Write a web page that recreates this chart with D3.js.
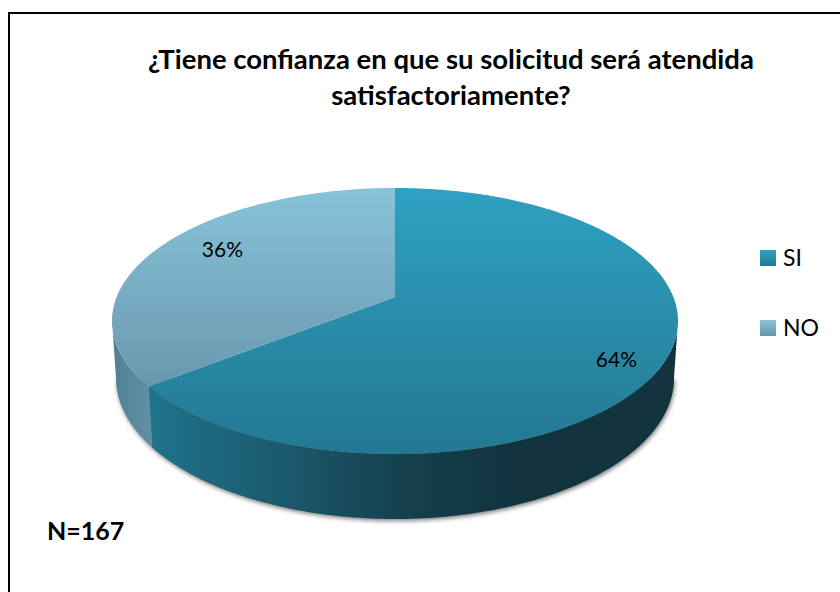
<!DOCTYPE html>
<html>
<head>
<meta charset="utf-8">
<style>
  html, body { margin: 0; padding: 0; background: #fff; }
  svg { display: block; }
  text { font-family: Lato, "Open Sans", sans-serif; fill: #000; }
</style>
</head>
<body>
<svg id="chart" width="840" height="592"></svg>
<script src="https://cdn.jsdelivr.net/npm/d3@7"></script>
<script>
var categories = ["SI", "NO"];
var values = [64.4, 35.6];
var labels = ["64%", "36%"];
var titleLines = ["¿Tiene confianza en que su solicitud será atendida", "satisfactoriamente?"];
var note = "N=167";

var svg = d3.select("#chart");

// top face and bottom rim of the disc
var top_ = {cx: 395, cy: 321, rx: 283, ry: 133};
var bot = {cx: 395, cy: 378, rx: 279, ry: 141};
var persp = -0.18;   // moves the apex up, like the tilted 3D view

// circle point -> ellipse, keeps the circle a circle but shifts the centre
function project(e, a, r) {
  var u = Math.sin(a) * r, v = -Math.cos(a) * r;
  var w = 1 + persp * v;
  return [e.cx + e.rx * u * Math.sqrt(1 - persp * persp) / w,
          e.cy + e.ry * (v + persp) / w];
}

var defs = svg.append("defs");

function gradient(id, x1, y1, x2, y2, stops) {
  var g = defs.append("linearGradient").attr("id", id)
    .attr("gradientUnits", "userSpaceOnUse")
    .attr("x1", x1).attr("y1", y1).attr("x2", x2).attr("y2", y2);
  stops.forEach(function(s) {
    g.append("stop").attr("offset", s[0]).attr("stop-color", s[1]);
  });
}

gradient("topSI", 0, 188, 0, 454, [[0, "#2fa1c2"], [1, "#237892"]]);
gradient("topNO", 0, 188, 0, 400, [[0, "#87c3da"], [1, "#6795aa"]]);
gradient("wallSI", 150, 0, 670, 0, [[0, "#1f738b"], [0.25, "#1b5a6d"], [0.5, "#143f4d"], [0.7, "#11343f"], [1, "#11343f"]]);
gradient("wallNO", 112, 0, 156, 0, [[0, "#4f8095"], [1, "#6292a6"]]);
gradient("swSI", 0, 0, 0, 16, [[0, "#2fa1c2"], [1, "#237892"]]);
gradient("swNO", 0, 0, 0, 16, [[0, "#87c3da"], [1, "#6795aa"]]);
defs.append("filter").attr("id", "blur").attr("x", "-5%").attr("y", "-5%").attr("width", "110%").attr("height", "110%")
  .append("feGaussianBlur").attr("stdDeviation", 2.2);

// frame, only left and top are inside the crop
svg.append("path").attr("d", "M9,592V13H840").attr("fill", "none").attr("stroke", "#000").attr("stroke-width", 2);

var pie = d3.pie().sort(null).startAngle(0).endAngle(2 * Math.PI);
var arcs = pie(values);
var line = d3.line();

function sweep(a0, a1) {
  var n = Math.ceil(Math.abs(a1 - a0) / 0.01);
  return d3.range(n + 1).map(function(i) { return a0 + (a1 - a0) * i / n; });
}

// angles where the top face reaches its widest point
var rightEdge = Math.acos(persp);
var leftEdge = 2 * Math.PI - rightEdge;

// soft shadow under the rim
svg.append("path")
  .attr("d", line(sweep(rightEdge, leftEdge).map(function(a) { return project(bot, a, 1); })) + "Z")
  .attr("transform", "translate(1,2)")
  .attr("fill", "#808080")
  .attr("filter", "url(#blur)");

// side walls
var split = arcs[0].endAngle;

function wallPath(angles) {
  var pts = angles.map(function(a) { return project(top_, a, 1); })
    .concat(angles.slice().reverse().map(function(a) { return project(bot, a, 1); }));
  return line(pts) + "Z";
}

svg.append("path").attr("d", wallPath(sweep(rightEdge, split))).attr("fill", "url(#wallSI)");
svg.append("path").attr("d", wallPath(sweep(split, leftEdge))).attr("fill", "url(#wallNO)");

// top faces
var apex = project(top_, 0, 0);
svg.selectAll(".slice")
  .data(arcs)
  .enter().append("path")
  .attr("class", "slice")
  .attr("d", function(d) {
    var pts = sweep(d.startAngle, d.endAngle).map(function(a) { return project(top_, a, 1); });
    return line([apex].concat(pts)) + "Z";
  })
  .attr("fill", function(d, i) { return i == 0 ? "url(#topSI)" : "url(#topNO)"; });

// percent labels
var labelR = [0.82, 0.76];
var labelNudge = [[2, 21], [7, 0]];
svg.selectAll(".pct")
  .data(arcs)
  .enter().append("text")
  .attr("class", "pct")
  .attr("transform", function(d, i) {
    var p = project(top_, (d.startAngle + d.endAngle) / 2, labelR[i]);
    return "translate(" + (p[0] + labelNudge[i][0]) + "," + (p[1] + labelNudge[i][1]) + ")";
  })
  .attr("text-anchor", "middle")
  .attr("font-size", 21)
  .text(function(d, i) { return labels[i]; });

// title
svg.selectAll(".title")
  .data(titleLines)
  .enter().append("text")
  .attr("class", "title")
  .attr("x", 451)
  .attr("y", function(d, i) { return 69 + i * 36; })
  .attr("text-anchor", "middle")
  .attr("font-size", 27.5)
  .attr("font-weight", 700)
  .text(function(d) { return d; });

// legend
var legendY = d3.scalePoint().domain(categories).range([250, 320]);
var legend = svg.selectAll(".legend")
  .data(categories)
  .enter().append("g")
  .attr("class", "legend")
  .attr("transform", function(d) { return "translate(760," + legendY(d) + ")"; });
legend.append("rect")
  .attr("width", 16).attr("height", 16)
  .attr("fill", function(d) { return "url(#sw" + d + ")"; });
legend.append("text")
  .attr("x", 23).attr("y", 15.5)
  .attr("font-size", 23)
  .text(function(d) { return d; });

svg.append("text")
  .attr("x", 47).attr("y", 540)
  .attr("font-size", 25)
  .attr("font-weight", 700)
  .text(note);
</script>
</body>
</html>
